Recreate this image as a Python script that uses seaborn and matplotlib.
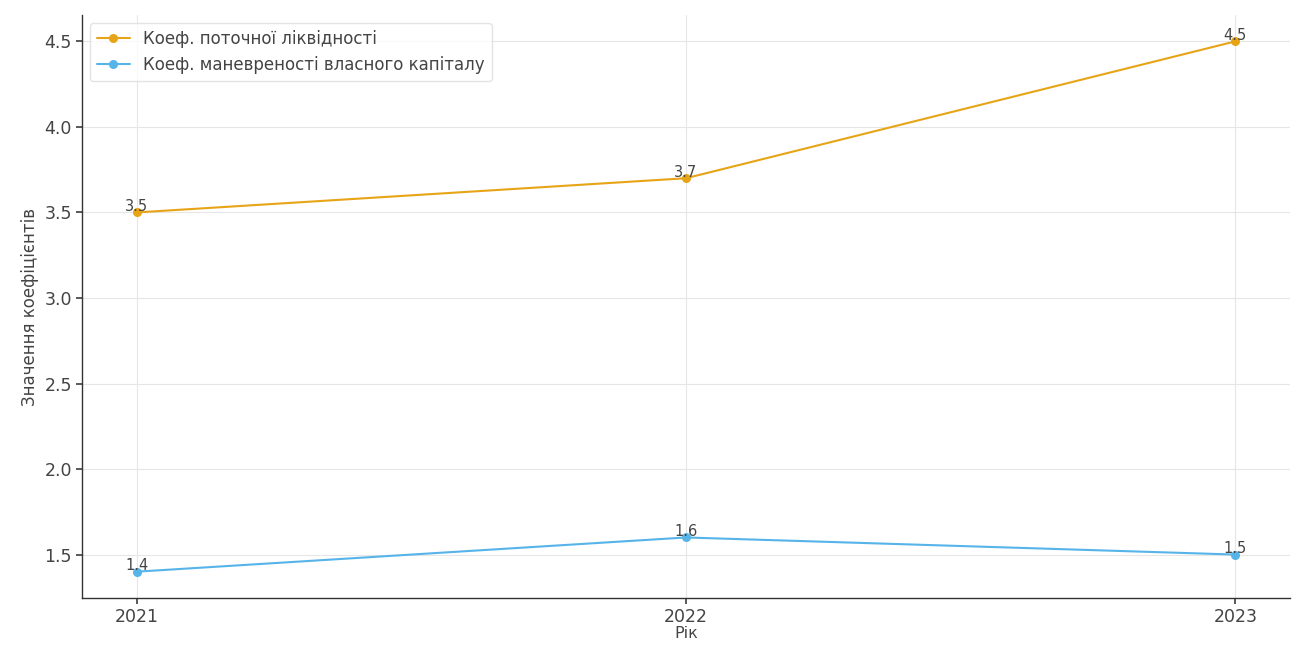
import matplotlib
matplotlib.use("Agg")
import matplotlib.pyplot as plt
import seaborn as sns
import pandas as pd

years = [2021, 2022, 2023]
current_liquidity = [3.5, 3.7, 4.5]
equity_maneuverability = [1.4, 1.6, 1.5]
series_names = ["Коеф. поточної ліквідності", "Коеф. маневреності власного капіталу"]
colors = ["#E6A416", "#56B4E9"]

df = pd.DataFrame({
    "Рік": years * 2,
    "value": current_liquidity + equity_maneuverability,
    "series": [series_names[0]] * 3 + [series_names[1]] * 3,
})

sns.set_theme(style="whitegrid")
plt.rcParams["font.family"] = ["DejaVu Sans"]

fig, ax = plt.subplots(figsize=(12.98, 6.46), dpi=100)
sns.lineplot(data=df, x="Рік", y="value", hue="series", palette=colors,
             marker="o", markersize=6.5, markeredgewidth=0, linewidth=1.5, ax=ax)

for vals in (current_liquidity, equity_maneuverability):
    for x, y in zip(years, vals):
        ax.annotate(f"{y}", (x, y), textcoords="offset points", xytext=(0, -1),
                    ha="center", va="bottom", fontsize=10.5, color="#444444")

ax.set_xticks(years)
ax.set_xticklabels([str(y) for y in years])
ax.set_xlabel("Рік", fontsize=11.5, color="#444444", labelpad=0)
ax.set_ylabel("Значення коефіцієнтів", fontsize=12, color="#444444")
ax.tick_params(axis="both", labelsize=12.5, colors="#444444", length=4, direction="out",
               bottom=True, left=True, pad=3)
ax.grid(True, color="#e6e6e6", linewidth=0.8)
for s in ["top", "right"]:
    ax.spines[s].set_visible(False)
for s in ["left", "bottom"]:
    ax.spines[s].set_color("#333333")
    ax.spines[s].set_linewidth(1.0)

leg = ax.legend(loc="upper left", fontsize=12, frameon=True)
leg.get_frame().set_edgecolor("#dddddd")
for t in leg.get_texts():
    t.set_color("#444444")

fig.subplots_adjust(left=0.063, right=0.994, top=0.977, bottom=0.074)
fig.savefig("out.png", dpi=100)
